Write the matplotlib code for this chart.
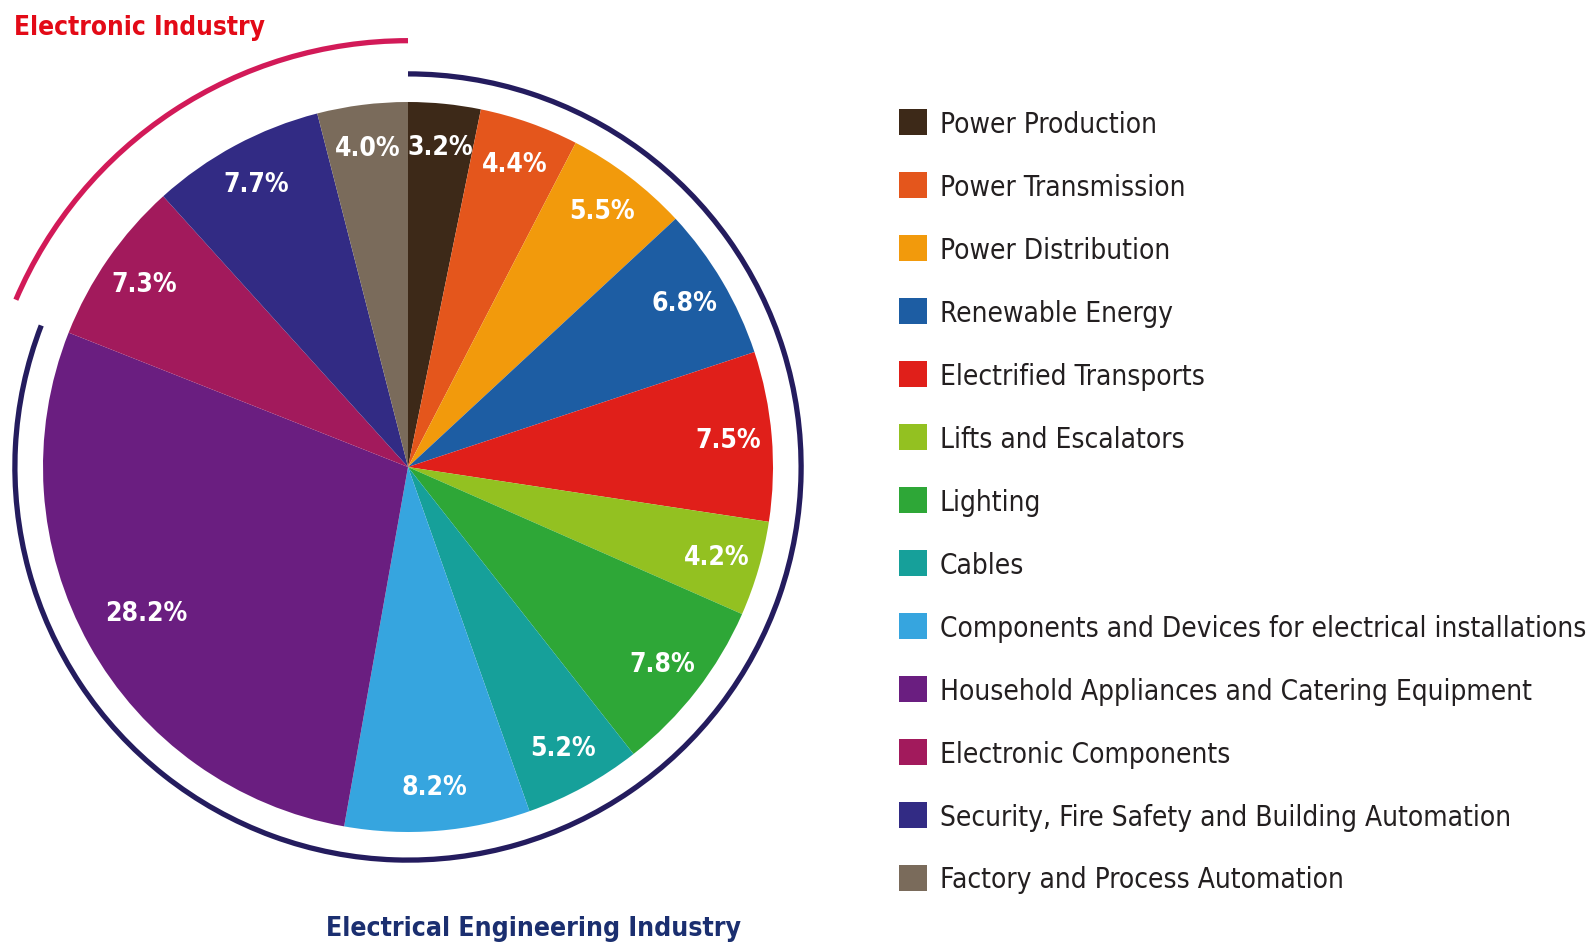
import numpy as np
import matplotlib
matplotlib.use("Agg")
from matplotlib import pyplot as plt
from matplotlib import font_manager
from matplotlib.patches import Arc, Patch

# 寻找窄体字体，没有就用 Roboto
cond = [f for f in font_manager.fontManager.ttflist
        if f.stretch in ("condensed", "semi-condensed") or "Condensed" in f.name or "Narrow" in f.name]
cond.sort(key=lambda f: (0 if "Noto" in f.name else 1 if "DejaVu" in f.name else 2, f.name))
if cond:
    plt.rcParams['font.family'] = [cond[0].name, 'DejaVu Sans']
    plt.rcParams['font.stretch'] = cond[0].stretch
else:
    plt.rcParams['font.family'] = ['Roboto', 'DejaVu Sans']

# 数据
categories = [
    "Power Production", "Power Transmission", "Power Distribution",
    "Renewable Energy", "Electrified Transports", "Lifts and Escalators",
    "Lighting", "Cables", "Components and Devices for electrical installations",
    "Household Appliances and Catering Equipment", "Electronic Components",
    "Security, Fire Safety and Building Automation", "Factory and Process Automation",
]
shares = [3.2, 4.4, 5.5, 6.8, 7.5, 4.2, 7.8, 5.2, 8.2, 28.2, 7.3, 7.7, 4.0]
colors = [
    "#3d2918", "#e4561c", "#f29a0c", "#1d5da3", "#e01f1a", "#93c121",
    "#2ea737", "#16a09a", "#36a5df", "#6a1e80", "#a21a5c", "#322b84", "#7a6b5b",
]
electronic = ["Electronic Components", "Security, Fire Safety and Building Automation",
              "Factory and Process Automation"]

W, H = 1591, 945
fig = plt.figure(figsize=(W / 100, H / 100), dpi=100)
renderer = fig.canvas.get_renderer()


def fit(t, target_px):
    # 按目标宽度调整字号
    w = t.get_window_extent(renderer).width
    t.set_fontsize(t.get_fontsize() * target_px / w)
    return t.get_fontsize()


cx, cy, r = 408, 468, 365  # 像素
ext = 1.2
ax = fig.add_axes([(cx - r * ext) / W, (H - cy - r * ext) / H, 2 * r * ext / W, 2 * r * ext / H])

wedges, _ = ax.pie(shares, colors=colors, startangle=90, counterclock=False,
                   radius=1.0, wedgeprops=dict(linewidth=0))
ax.set_xlim(-ext, ext)
ax.set_ylim(-ext, ext)
ax.set_aspect("equal")
ax.axis("off")

# 百分比标签
probe = fig.text(0, 0, "28.2%", fontsize=20, fontweight="bold")
pct_size = fit(probe, 82)
probe.remove()
for w, v in zip(wedges, shares):
    ang = np.deg2rad((w.theta1 + w.theta2) / 2)
    d = 0.82 if v > 20 else 0.88
    ax.text(d * np.cos(ang), d * np.sin(ang), "{:.1f}%".format(v), color="white",
            fontsize=pct_size, fontweight="bold", ha="center", va="center")

# 外圈弧线
elec = sum(v for c, v in zip(categories, shares) if c in electronic)
boundary = 90 + elec * 3.6
ax.add_patch(Arc((0, 0), 2 * 1.168, 2 * 1.168, theta1=90, theta2=boundary - 1.5,
                 color="#d21a58", linewidth=3.8, clip_on=False))
ax.add_patch(Arc((0, 0), 2 * 1.077, 2 * 1.077, theta1=boundary + 0.5, theta2=450,
                 color="#241c5e", linewidth=3.8, clip_on=False))

t1 = fig.text(14 / W, 1 - 28 / H, "Electronic Industry", color="#e30a17", fontsize=20,
              fontweight="bold", ha="left", va="center")
fit(t1, 252)
t2 = fig.text(533 / W, 1 - 929 / H, "Electrical Engineering Industry", color="#1b2f70",
              fontsize=20, fontweight="bold", ha="center", va="center")
fit(t2, 416)

# 图例
probe = fig.text(0, 0, max(categories, key=len), fontsize=20)
leg_size = fit(probe, 645)
probe.remove()
fs_px = leg_size * 100 / 72
pitch = 62.2
handles = [Patch(facecolor=c, edgecolor="none") for c in colors]
fig.legend(handles, categories, loc="upper left", bbox_to_anchor=(899 / W, 1 - 110 / H),
           frameon=False, fontsize=leg_size, handlelength=27.5 / fs_px, handleheight=30 / fs_px,
           handletextpad=13 / fs_px, labelspacing=pitch / fs_px - 1.0,
           borderaxespad=0, borderpad=0, labelcolor="#231f20")

fig.savefig("out.png", dpi=100, facecolor="white")
